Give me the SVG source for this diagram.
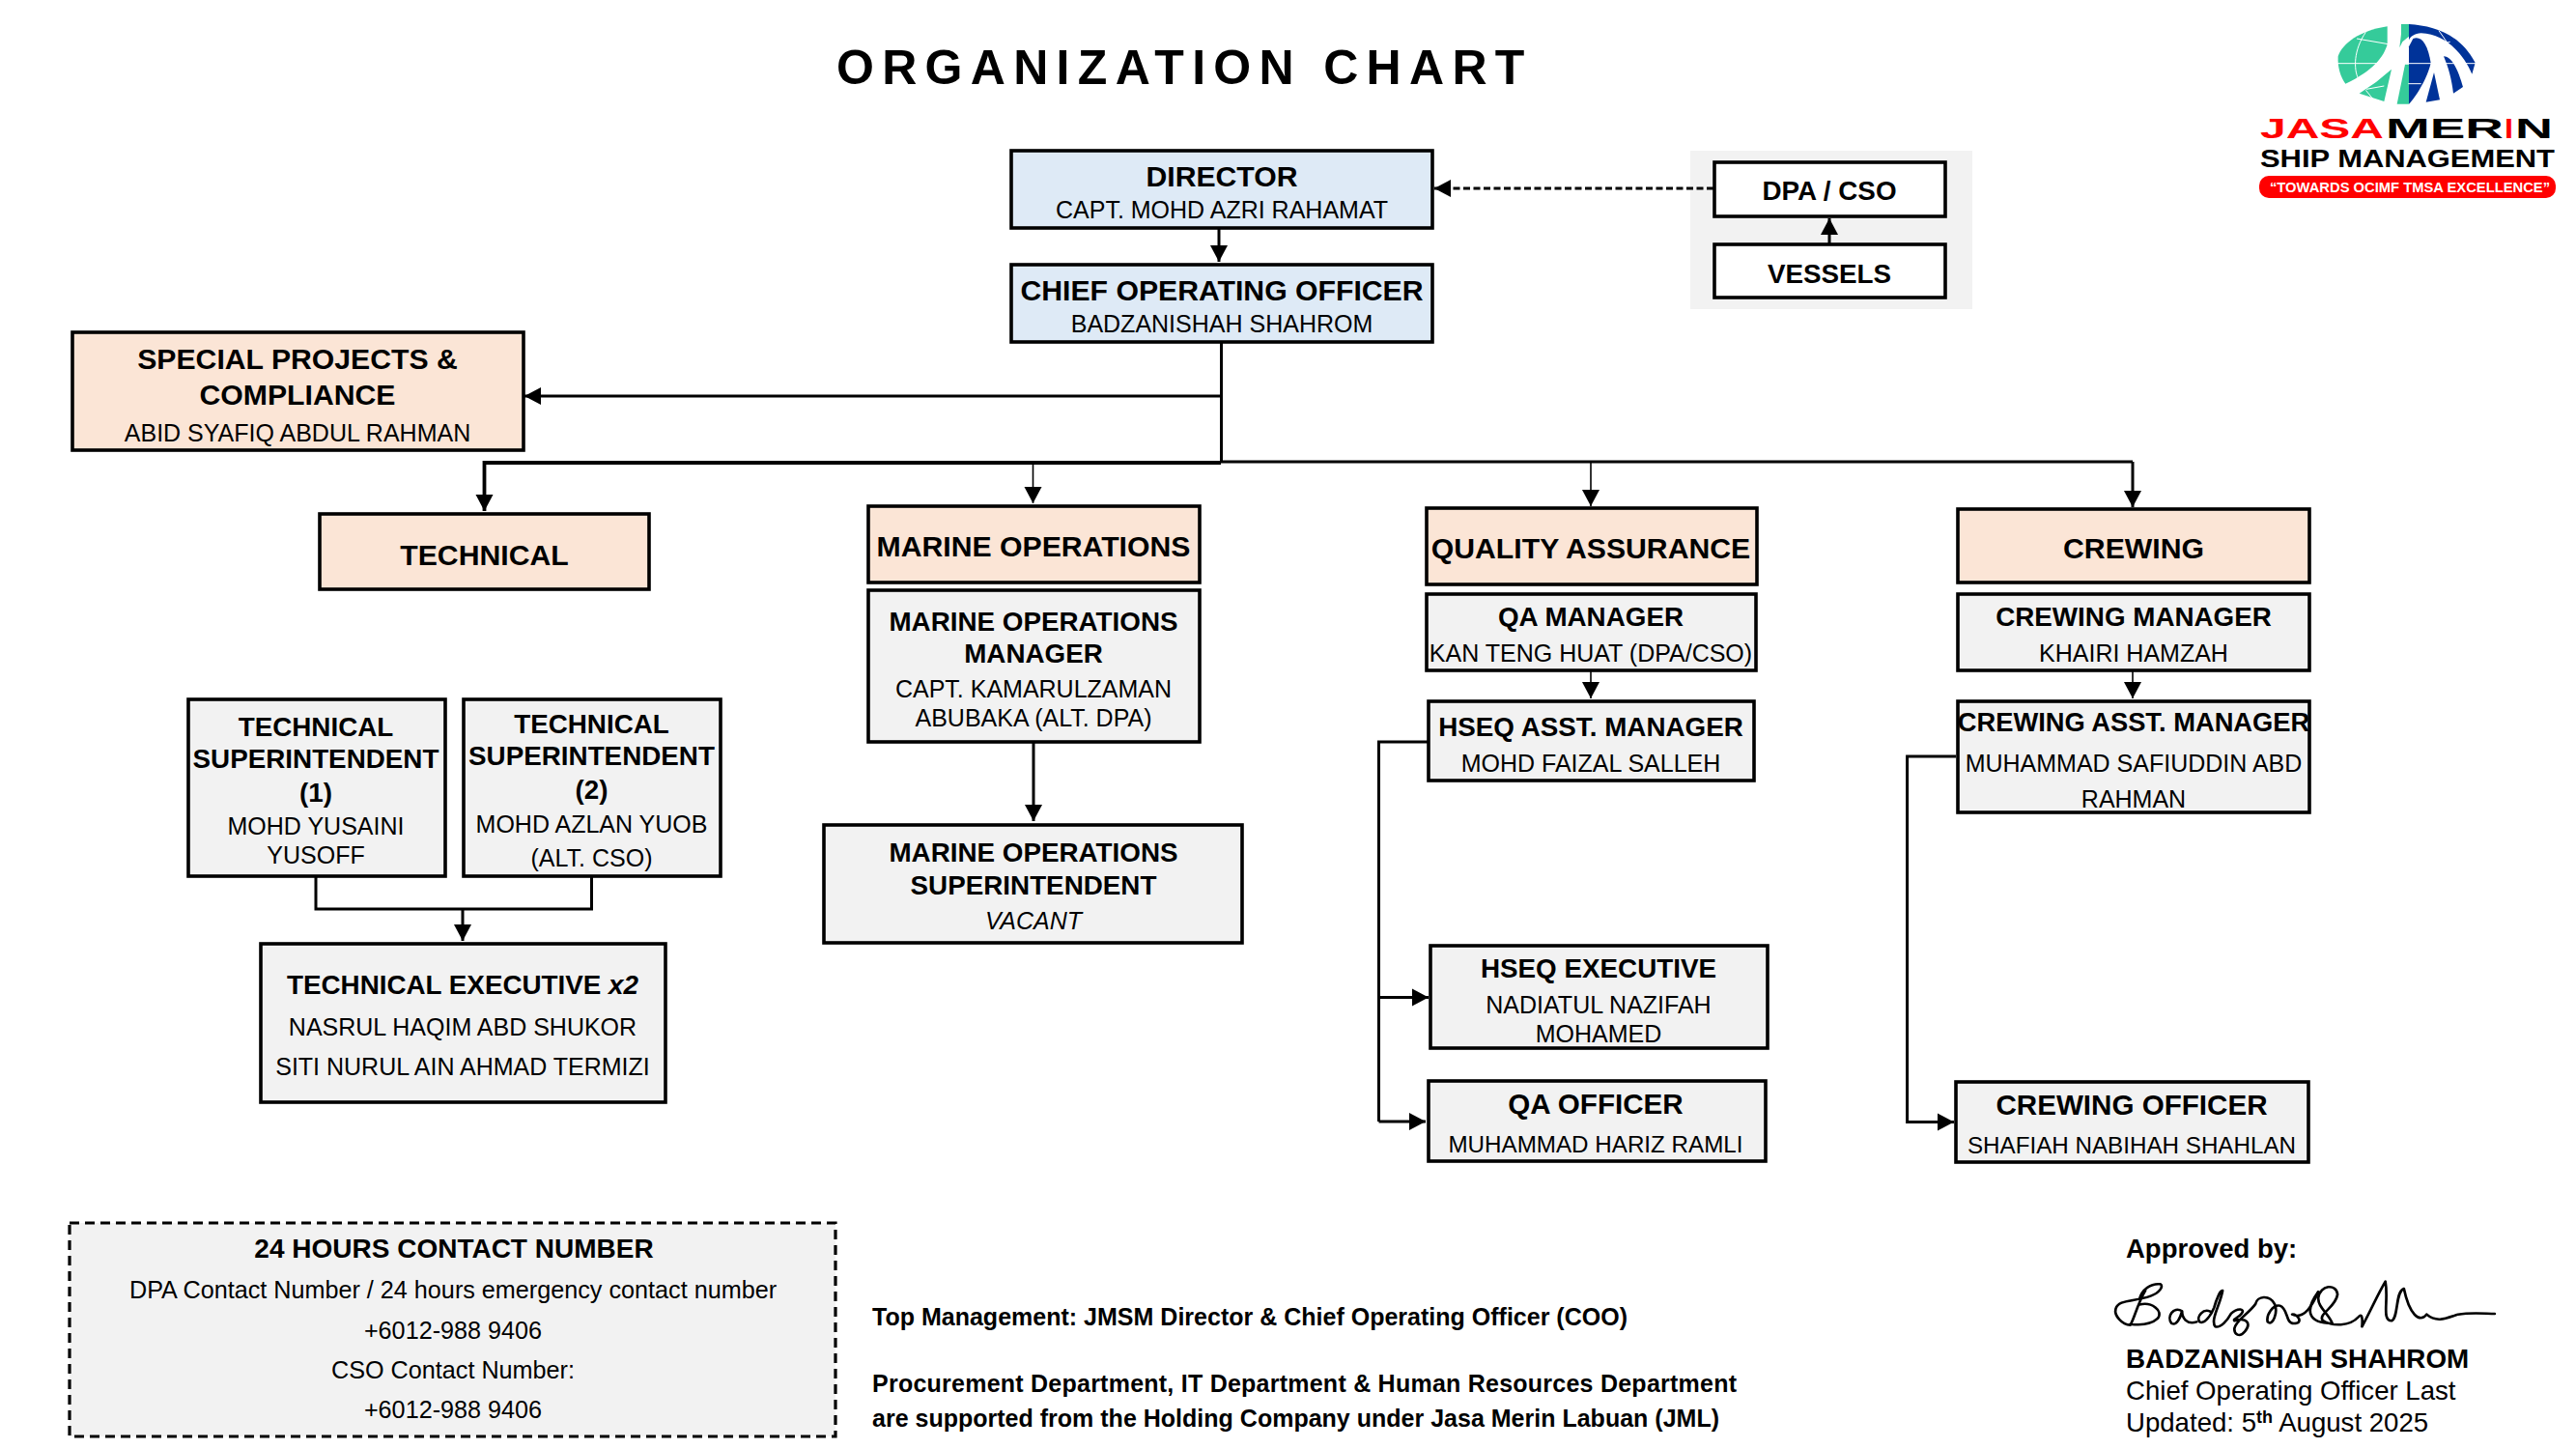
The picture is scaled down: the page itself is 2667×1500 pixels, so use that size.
<svg xmlns="http://www.w3.org/2000/svg" width="2667" height="1500" viewBox="0 0 2667 1500">
<style>
text{font-family:"Liberation Sans",Arial,sans-serif;fill:#000;text-anchor:middle}
.box{stroke:#000;stroke-width:3.6}
.blue{fill:#deeaf6}.peach{fill:#fbe5d6}.gray{fill:#f2f2f2}.white{fill:#fff}
.h{font-weight:700;font-size:30.2px}
.b{font-weight:700;font-size:27.8px}
.o{font-weight:700;font-size:29.6px}
.n{font-size:25px}
.f{font-size:25px;font-weight:700;text-anchor:start}
.c{fill:none;stroke:#000;stroke-width:3}
.t{fill:none;stroke:#000;stroke-width:1.6}
.a{marker-end:url(#ah)}
.gl{fill:none;stroke:#fff;stroke-width:3}
</style>
<defs>
<marker id="ah" markerUnits="userSpaceOnUse" markerWidth="20" markerHeight="20" refX="17" refY="9.5" orient="auto"><path d="M0 0.5L17 9.5L0 18.5Z" fill="#000"/></marker>
</defs>
<rect width="2667" height="1500" fill="#fff"/>
<text id="title" x="866" y="87" font-size="50" font-weight="700" letter-spacing="8.3" style="text-anchor:start">ORGANIZATION CHART</text>

<rect id="dpa-panel" x="1750" y="156" width="292" height="164" fill="#f2f2f2"/>

<g id="connectors">
<path class="c a" d="M1262 236V271"/>
<path class="c a" d="M1774 195H1485" stroke-dasharray="7 3.5"/>
<path class="c a" d="M1894 252V226"/>
<path class="c" d="M1264.5 354V478"/>
<path class="c a" d="M1264 410H543"/>
<path class="c a" d="M1264 479H501.5V529" style="stroke-width:3.8"/>
<path class="c" d="M1264 478H2208"/>
<path class="t a" d="M1069.5 478V521"/>
<path class="t a" d="M1647 478V524"/>
<path class="c a" d="M2208 478V525"/>
<path class="c" d="M327 907V941H612.5V907"/>
<path class="c a" d="M479 941V974"/>
<path class="c a" d="M1070 768V850"/>
<path class="t a" d="M1647 694V723"/>
<path class="t a" d="M2208 694V723"/>
<path class="c" d="M1478 768H1427.5V1161"/>
<path class="c a" d="M1427.5 1032.5H1479"/>
<path class="c a" d="M1427.5 1161H1476"/>
<path class="c a" d="M2025 783H1974.6V1161.5H2023"/>
</g>

<g id="director"><rect class="box blue" x="1047" y="156" width="436" height="80"/><text class="h" x="1265" y="193">DIRECTOR</text><text class="n" x="1265" y="226">CAPT. MOHD AZRI RAHAMAT</text></g>
<g id="coo"><rect class="box blue" x="1047" y="274" width="436" height="80"/><text class="h" x="1265" y="311">CHIEF OPERATING OFFICER</text><text class="n" x="1265" y="344">BADZANISHAH SHAHROM</text></g>
<g id="dpa"><rect class="box white" x="1775" y="168" width="239" height="56"/><text class="b" x="1894" y="207">DPA / CSO</text></g>
<g id="vessels"><rect class="box white" x="1775" y="253" width="239" height="55"/><text class="b" x="1894" y="293">VESSELS</text></g>
<g id="special"><rect class="box peach" x="75" y="344" width="467" height="122"/><text class="h" x="308" y="382">SPECIAL PROJECTS &amp;</text><text class="h" x="308" y="419">COMPLIANCE</text><text class="n" x="308" y="457">ABID SYAFIQ ABDUL RAHMAN</text></g>
<g id="technical"><rect class="box peach" x="331" y="532" width="341" height="78"/><text class="h" x="501.5" y="585">TECHNICAL</text></g>
<g id="marine"><rect class="box peach" x="899" y="524" width="343" height="79"/><text class="h" x="1070" y="576">MARINE OPERATIONS</text></g>
<g id="qa"><rect class="box peach" x="1477" y="526" width="342" height="79"/><text class="h" x="1647" y="578">QUALITY ASSURANCE</text></g>
<g id="crewing"><rect class="box peach" x="2027" y="527" width="364" height="76"/><text class="h" x="2209" y="578">CREWING</text></g>

<g id="tech-sup-1"><rect class="box gray" x="195" y="724" width="266" height="183"/><text class="b" x="327" y="762">TECHNICAL</text><text class="b" x="327" y="795">SUPERINTENDENT</text><text class="b" x="327" y="830">(1)</text><text class="n" x="327" y="864">MOHD YUSAINI</text><text class="n" x="327" y="894">YUSOFF</text></g>
<g id="tech-sup-2"><rect class="box gray" x="480" y="724" width="266" height="183"/><text class="b" x="612.5" y="759">TECHNICAL</text><text class="b" x="612.5" y="792">SUPERINTENDENT</text><text class="b" x="612.5" y="827">(2)</text><text class="n" x="612.5" y="862">MOHD AZLAN YUOB</text><text class="n" x="612.5" y="897">(ALT. CSO)</text></g>
<g id="tech-exec"><rect class="box gray" x="270" y="977" width="419" height="164"/><text class="b" x="479" y="1029">TECHNICAL EXECUTIVE <tspan font-style="italic">x2</tspan></text><text class="n" x="479" y="1072">NASRUL HAQIM ABD SHUKOR</text><text class="n" x="479" y="1113">SITI NURUL AIN AHMAD TERMIZI</text></g>
<g id="marine-mgr"><rect class="box gray" x="899" y="611" width="343" height="157"/><text class="b" x="1070" y="653">MARINE OPERATIONS</text><text class="b" x="1070" y="686">MANAGER</text><text class="n" x="1070" y="722">CAPT. KAMARULZAMAN</text><text class="n" x="1070" y="752">ABUBAKA (ALT. DPA)</text></g>
<g id="marine-sup"><rect class="box gray" x="853" y="854" width="433" height="122"/><text class="b" x="1070" y="892">MARINE OPERATIONS</text><text class="b" x="1070" y="926">SUPERINTENDENT</text><text class="n" x="1070" y="962" font-style="italic">VACANT</text></g>
<g id="qa-mgr"><rect class="box gray" x="1477" y="615" width="341" height="79"/><text class="b" x="1647" y="648">QA MANAGER</text><text class="n" x="1647" y="685">KAN TENG HUAT (DPA/CSO)</text></g>
<g id="hseq-am"><rect class="box gray" x="1479" y="726" width="337" height="82"/><text class="b" x="1647" y="762">HSEQ ASST. MANAGER</text><text class="n" x="1647" y="799">MOHD FAIZAL SALLEH</text></g>
<g id="hseq-exec"><rect class="box gray" x="1481" y="979" width="349" height="106"/><text class="b" x="1655" y="1012">HSEQ EXECUTIVE</text><text class="n" x="1655" y="1049">NADIATUL NAZIFAH</text><text class="n" x="1655" y="1079">MOHAMED</text></g>
<g id="qa-officer"><rect class="box gray" x="1479" y="1119" width="349" height="83"/><text class="o" x="1652" y="1153">QA OFFICER</text><text class="n" x="1652" y="1193" style="font-size:24.2px">MUHAMMAD HARIZ RAMLI</text></g>
<g id="crew-mgr"><rect class="box gray" x="2027" y="615" width="364" height="79"/><text class="b" x="2209" y="648">CREWING MANAGER</text><text class="n" x="2209" y="685">KHAIRI HAMZAH</text></g>
<g id="crew-am"><rect class="box gray" x="2027" y="726" width="364" height="115"/><text class="b" x="2209" y="757" style="font-size:27.3px">CREWING ASST. MANAGER</text><text class="n" x="2209" y="799">MUHAMMAD SAFIUDDIN ABD</text><text class="n" x="2209" y="836">RAHMAN</text></g>
<g id="crew-officer"><rect class="box gray" x="2025" y="1120" width="365" height="83"/><text class="o" x="2207" y="1154">CREWING OFFICER</text><text class="n" x="2207" y="1194" style="font-size:24.2px">SHAFIAH NABIHAH SHAHLAN</text></g>

<g id="contact"><rect x="72" y="1266" width="793" height="221" fill="#f2f2f2" stroke="#000" stroke-width="3.2" stroke-dasharray="10 6"/>
<text x="470" y="1302" font-size="28" font-weight="700">24 HOURS CONTACT NUMBER</text>
<text x="469" y="1344" font-size="25.2">DPA Contact Number / 24 hours emergency contact number</text>
<text x="469" y="1386" font-size="25.2">+6012-988 9406</text>
<text x="469" y="1427" font-size="25.2">CSO Contact Number:</text>
<text x="469" y="1468" font-size="25.2">+6012-988 9406</text></g>

<g id="notes">
<text class="f" x="903" y="1372" textLength="782">Top Management: JMSM Director &amp; Chief Operating Officer (COO)</text>
<text class="f" x="903" y="1441" textLength="895">Procurement Department, IT Department &amp; Human Resources Department</text>
<text class="f" x="903" y="1477" textLength="877">are supported from the Holding Company under Jasa Merin Labuan (JML)</text>
</g>

<g id="approval">
<text x="2201" y="1302" font-size="27.5" font-weight="700" style="text-anchor:start">Approved by:</text>
<g transform="translate(2100,1260) scale(.3617,.3333)" fill="none" stroke="#000" stroke-width="7.5" stroke-linecap="round" stroke-linejoin="round">
<path d="M335 228C312 270 305 310 292 335C268 335 245 305 250 285C258 255 300 264 350 245C375 235 388 215 378 208C350 205 325 225 318 255M318 272C352 262 388 290 370 315C350 335 315 335 292 332"/>
<path d="M440 292C415 275 395 310 410 330C425 338 435 312 440 292C440 312 452 335 482 325"/>
<path d="M525 295C500 280 480 310 490 325C505 335 525 300 532 280C538 255 550 225 556 228C550 270 520 320 535 340C550 345 570 320 580 300C600 280 622 285 610 300C600 315 585 315 590 322C622 310 640 328 620 355C605 375 588 365 590 345C595 320 630 300 650 270C655 245 690 240 705 270C715 295 700 340 685 325C680 305 700 270 720 275C745 285 735 330 760 330C790 330 770 300 755 302C790 320 815 270 830 232"/>
<path d="M830 232C790 290 800 330 870 330C860 300 828 280 830 250C835 210 882 205 885 240C880 280 830 300 842 320C870 340 920 340 945 310C960 290 955 340 955 340C980 290 1000 240 1022 200C1032 260 1010 320 1040 322C1060 312 1050 230 1075 222C1090 300 1120 332 1140 302C1170 330 1200 312 1230 302C1270 295 1310 300 1335 300"/>
</g>
<text x="2201" y="1416" font-size="27.8" font-weight="700" style="text-anchor:start">BADZANISHAH SHAHROM</text>
<text x="2201" y="1449" font-size="27.6" style="text-anchor:start">Chief Operating Officer Last</text>
<text x="2201" y="1482" font-size="27.6" style="text-anchor:start">Updated: 5<tspan dy="-9" font-size="18" font-weight="700">th</tspan><tspan dy="9"> August 2025</tspan></text>
</g>

<g id="logo">
<g transform="translate(2400,15) scale(.33333)">
<path fill="#35cb9a" d="M215 37V92C205 130 170 175 85 215C70 195 60 165 62 130C75 90 130 50 215 37Z"/>
<path fill="#35cb9a" d="M228 170L205 270L128 245L180 210Z"/>
<path fill="#35cb9a" d="M258 30H282V68L262 85L253 103L258 60Z"/>
<path fill="#35cb9a" d="M270 155H282V278H245Z"/>
<path fill="#003399" d="M282 30C360 35 440 60 488 150L478 185C455 130 400 60 320 58C300 58 285 70 282 80Z"/>
<path fill="#003399" d="M295 75C320 65 340 90 350 150C340 200 300 260 282 278V100Z"/>
<path fill="#003399" d="M360 180L378 265L335 272Z"/>
<path fill="#003399" d="M390 130C420 130 440 190 450 225L420 245C415 200 405 165 390 130Z"/>
<path class="gl" d="M60 152H490M148 55C110 110 110 170 125 200M120 75L218 92M150 232L205 222M148 235L170 262M375 50L410 100M370 95L410 85M280 215H320"/>
</g>
<text x="2340" y="143" font-size="29" font-weight="700" textLength="128" lengthAdjust="spacingAndGlyphs" style="text-anchor:start;fill:#f00">JASA</text>
<text x="2470" y="143" font-size="29" font-weight="700" textLength="122" lengthAdjust="spacingAndGlyphs" style="text-anchor:start">MER</text>
<text x="2593" y="143" font-size="29" font-weight="700" textLength="9" lengthAdjust="spacingAndGlyphs" style="text-anchor:start;fill:#f00">I</text>
<text x="2604" y="143" font-size="29" font-weight="700" textLength="39" lengthAdjust="spacingAndGlyphs" style="text-anchor:start">N</text>
<text x="2340" y="173" font-size="25" font-weight="700" textLength="305" lengthAdjust="spacingAndGlyphs" style="text-anchor:start">SHIP MANAGEMENT</text>
<rect x="2339" y="182" width="307" height="23" rx="10" fill="#f00"/>
<text x="2350" y="198.5" font-size="14.5" font-weight="700" textLength="290" lengthAdjust="spacingAndGlyphs" style="text-anchor:start;fill:#fff">“TOWARDS OCIMF TMSA EXCELLENCE”</text>
</g>
</svg>
